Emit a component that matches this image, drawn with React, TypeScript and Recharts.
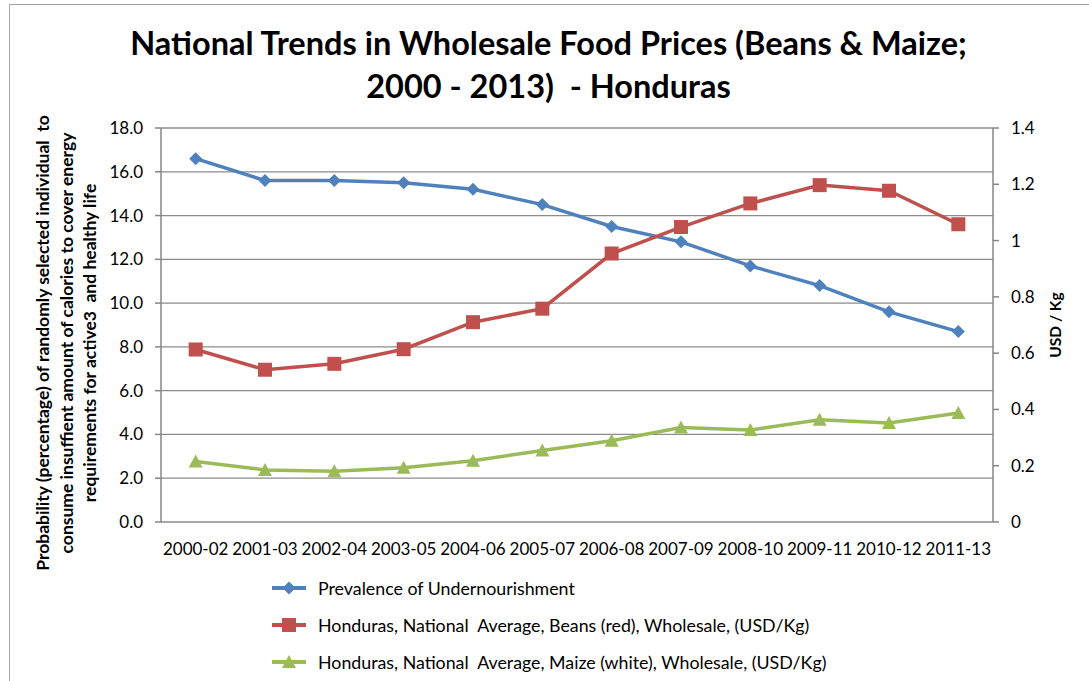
import { LineChart, Line, XAxis, YAxis, CartesianGrid, Legend } from "recharts";

const periods = [
  "2000-02", "2001-03", "2002-04", "2003-05", "2004-06", "2005-07",
  "2006-08", "2007-09", "2008-10", "2009-11", "2010-12", "2011-13",
];
// prevalence of undernourishment, % (left axis)
const undernourishment = [16.6, 15.6, 15.6, 15.5, 15.2, 14.5, 13.5, 12.8, 11.7, 10.8, 9.6, 8.7];
// wholesale prices, USD/Kg (right axis)
const beansPrice = [0.613, 0.541, 0.562, 0.614, 0.71, 0.758, 0.954, 1.048, 1.132, 1.197, 1.177, 1.058];
const maizePrice = [0.215, 0.185, 0.18, 0.193, 0.218, 0.254, 0.289, 0.336, 0.327, 0.363, 0.352, 0.387];

const leftTicks = [0, 2, 4, 6, 8, 10, 12, 14, 16, 18];
const rightTicks = [0, 0.2, 0.4, 0.6, 0.8, 1, 1.2, 1.4];
const boundaryTicks = [0, 1, 2, 3, 4, 5, 6, 7, 8, 9, 10, 11, 12];

const seriesNames = [
  "Prevalence of Undernourishment",
  "Honduras, National  Average, Beans (red), Wholesale, (USD/Kg)",
  "Honduras, National  Average, Maize (white), Wholesale, (USD/Kg)",
];

const BLUE = "#4F81BD";
const RED = "#C0504D";
const GREEN = "#9BBB59";
const GRID = "#8c8c8c";
const FONT = "Lato, 'Open Sans', sans-serif";

const data = periods.map((period, i) => ({
  period,
  slot: i + 0.5,
  pou: undernourishment[i],
  beans: beansPrice[i],
  maize: maizePrice[i],
}));

type Shape = "diamond" | "square" | "triangle";

const Marker = ({ cx, cy, shape, color }: { cx: number; cy: number; shape: Shape; color: string }) => {
  if (shape === "diamond") {
    const r = 6.5;
    return <polygon points={`${cx},${cy - r} ${cx + r},${cy} ${cx},${cy + r} ${cx - r},${cy}`} fill={color} />;
  }
  if (shape === "square") {
    const r = 7;
    return <rect x={cx - r} y={cy - r} width={r * 2} height={r * 2} fill={color} />;
  }
  const r = 7;
  return <polygon points={`${cx},${cy - r} ${cx + r},${cy + r - 1} ${cx - r},${cy + r - 1}`} fill={color} />;
};

const dotOf = (shape: Shape, color: string) => (props: any) => (
  <Marker key={`${shape}-${props.index}`} cx={props.cx} cy={props.cy} shape={shape} color={color} />
);

const legendItems: { name: string; color: string; shape: Shape }[] = [
  { name: seriesNames[0], color: BLUE, shape: "diamond" },
  { name: seriesNames[1], color: RED, shape: "square" },
  { name: seriesNames[2], color: GREEN, shape: "triangle" },
];

const ChartLegend = () => (
  <div style={{ fontFamily: FONT, fontSize: 17.8, color: "#000" }}>
    {legendItems.map((item) => (
      <div key={item.name} style={{ display: "flex", alignItems: "center", height: 37, whiteSpace: "pre" }}>
        <svg width={50} height={20}>
          <line x1={4} y1={10} x2={38} y2={10} stroke={item.color} strokeWidth={4} />
          <Marker cx={21} cy={10} shape={item.shape} color={item.color} />
        </svg>
        <span>{item.name}</span>
      </div>
    ))}
  </div>
);

const tickStyle = { fontFamily: FONT, fontSize: 17, fill: "#000" };

export default function App() {
  return (
    <div style={{ position: "absolute", left: 0, top: 0, width: 1089, height: 681, overflow: "hidden", background: "#fff" }}>
      <div
        style={{
          position: "absolute", left: 9, top: 4, width: 1200, height: 800,
          border: "1px solid #a6a6a6", boxSizing: "border-box",
        }}
      />
      <div
        style={{
          position: "absolute", left: 0, top: 21, width: 1097, textAlign: "center", whiteSpace: "pre",
          fontFamily: FONT, fontWeight: 700, fontSize: 32.5, lineHeight: "43px", color: "#000",
        }}
      >
        {"National Trends in Wholesale Food Prices (Beans & Maize;\n2000 - 2013)  - Honduras"}
      </div>
      <div
        style={{
          position: "absolute", left: 67 - 260, top: 343 - 36, width: 520, height: 72,
          transform: "rotate(-90deg)", transformOrigin: "50% 50%", textAlign: "center",
          fontFamily: FONT, fontWeight: 700, fontSize: 17.5, lineHeight: "23.5px", color: "#000",
          whiteSpace: "pre",
        }}
      >
        {"Probability (percentage) of randomly selected individual  to\nconsume insuffient amount of calories to cover energy\nrequirements for active3  and healthy life"}
      </div>
      <div
        style={{
          position: "absolute", left: 1055 - 50, top: 325 - 10, width: 100, height: 20,
          transform: "rotate(-90deg)", textAlign: "center",
          fontFamily: FONT, fontWeight: 700, fontSize: 15.5, lineHeight: "20px", color: "#000",
        }}
      >
        USD / Kg
      </div>
      <LineChart
        width={1089}
        height={681}
        data={data}
        margin={{ top: 128, right: 36, bottom: 119, left: 101 }}
        style={{ position: "absolute", left: 0, top: 0 }}
      >
        <CartesianGrid horizontal vertical={false} yAxisId="left" xAxisId="bands" stroke={GRID} strokeWidth={1.3} />
        <XAxis
          xAxisId="edges"
          type="number"
          dataKey="slot"
          domain={[0, 12]}
          ticks={boundaryTicks}
          tick={false}
          height={0}
          tickSize={5}
          stroke="#868686"
          strokeWidth={1.5}
        />
        <XAxis
          xAxisId="bands"
          dataKey="period"
          scale="band"
          height={40}
          axisLine={false}
          tickLine={false}
          tickMargin={15}
          interval={0}
          tick={tickStyle}
        />
        <YAxis
          yAxisId="left"
          domain={[0, 18]}
          ticks={leftTicks}
          width={60}
          tickSize={6}
          tickMargin={12}
          tickFormatter={(v: number) => v.toFixed(1)}
          stroke="#868686"
          strokeWidth={1.5}
          tick={tickStyle}
        />
        <YAxis
          yAxisId="right"
          orientation="right"
          domain={[0, 1.4]}
          ticks={rightTicks}
          width={60}
          tickSize={6}
          tickMargin={12}
          stroke="#868686"
          strokeWidth={1.5}
          tick={tickStyle}
        />
        <Legend
          layout="vertical"
          align="center"
          verticalAlign="middle"
          wrapperStyle={{ left: 268, top: 569, width: 650 }}
          content={() => <ChartLegend />}
        />
        <Line
          xAxisId="bands"
          yAxisId="left"
          dataKey="pou"
          name={seriesNames[0]}
          stroke={BLUE}
          strokeWidth={3.5}
          dot={dotOf("diamond", BLUE)}
          isAnimationActive={false}
        />
        <Line
          xAxisId="bands"
          yAxisId="right"
          dataKey="beans"
          name={seriesNames[1]}
          stroke={RED}
          strokeWidth={3.5}
          dot={dotOf("square", RED)}
          isAnimationActive={false}
        />
        <Line
          xAxisId="bands"
          yAxisId="right"
          dataKey="maize"
          name={seriesNames[2]}
          stroke={GREEN}
          strokeWidth={3.5}
          dot={dotOf("triangle", GREEN)}
          isAnimationActive={false}
        />
      </LineChart>
    </div>
  );
}
